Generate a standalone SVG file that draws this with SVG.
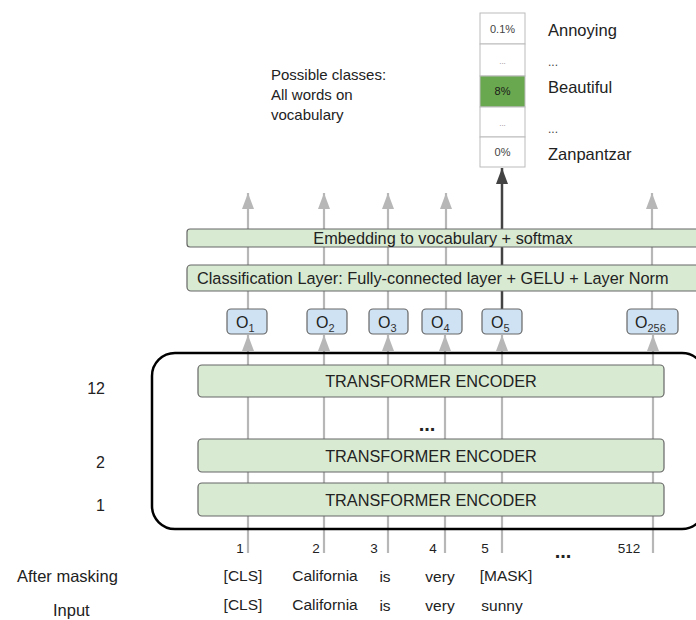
<svg xmlns="http://www.w3.org/2000/svg" width="696" height="620" viewBox="0 0 696 620">
<defs>
<marker id="ga" viewBox="0 0 16 12" refX="16" refY="6" markerWidth="16" markerHeight="12" markerUnits="userSpaceOnUse" orient="auto"><path d="M0,0 L16,6 L0,12 Z" fill="#b7b7b7"/></marker>
<marker id="ba" viewBox="0 0 16 12" refX="16" refY="6" markerWidth="16" markerHeight="12" markerUnits="userSpaceOnUse" orient="auto"><path d="M0,0 L16,6 L0,12 Z" fill="#434343"/></marker>
</defs>
<style>
text{font-family:"Liberation Sans",Arial,sans-serif;fill:#222}
.t14{font-size:15.5px}
.big{font-size:16.3px}
.lbl{font-size:16.5px}
.o{font-size:16px}
.sm{font-size:11px;fill:#444}
.sub{font-size:11px;fill:#333}
.green{fill:#d9ead3;stroke:#666;stroke-width:1.2}
.blue{fill:#cfe2f3;stroke:#666;stroke-width:1.2}
.cell{fill:#fff;stroke:#bbb;stroke-width:1}
.gl{stroke:#b7b7b7;stroke-width:2.2;fill:none}
.bl{stroke:#434343;stroke-width:2.5;fill:none}
</style>
<rect width="696" height="620" fill="#fff"/>

<g id="connectors">
<line class="gl" x1="248" y1="553" x2="248" y2="335" marker-end="url(#ga)"/>
<line class="gl" x1="324" y1="553" x2="324" y2="335" marker-end="url(#ga)"/>
<line class="gl" x1="388" y1="553" x2="388" y2="335" marker-end="url(#ga)"/>
<line class="gl" x1="445" y1="553" x2="445" y2="335" marker-end="url(#ga)"/>
<line class="gl" x1="502" y1="553" x2="502" y2="335" marker-end="url(#ga)"/>
<line class="gl" x1="653" y1="553" x2="653" y2="335" marker-end="url(#ga)"/>
<line class="gl" x1="248" y1="309" x2="248" y2="193" marker-end="url(#ga)"/>
<line class="gl" x1="324" y1="309" x2="324" y2="193" marker-end="url(#ga)"/>
<line class="gl" x1="388" y1="309" x2="388" y2="193" marker-end="url(#ga)"/>
<line class="gl" x1="446" y1="309" x2="446" y2="193" marker-end="url(#ga)"/>
<line class="gl" x1="652" y1="309" x2="652" y2="193" marker-end="url(#ga)"/>
<line class="bl" x1="502" y1="309" x2="502" y2="168" marker-end="url(#ba)"/>
</g>

<g id="stack">
<rect x="152" y="353" width="553" height="176" rx="23" fill="none" stroke="#000" stroke-width="2.5"/>
</g>

<g id="enc12"><rect class="green" x="198" y="365" width="466" height="32" rx="4"/><text class="big" x="431" y="387" text-anchor="middle">TRANSFORMER ENCODER</text></g>
<g id="dots"><text x="427" y="431" text-anchor="middle" style="font-size:20px;font-weight:bold">...</text></g>
<g id="enc2"><rect class="green" x="198" y="439" width="466" height="33" rx="4"/><text class="big" x="431" y="462" text-anchor="middle">TRANSFORMER ENCODER</text></g>
<g id="enc1"><rect class="green" x="198" y="483" width="466" height="33" rx="4"/><text class="big" x="431" y="506" text-anchor="middle">TRANSFORMER ENCODER</text></g>

<g id="classification"><rect class="green" x="187" y="265" width="520" height="26" rx="4"/><text class="big" x="197" y="284">Classification Layer: Fully-connected layer + GELU + Layer Norm</text></g>
<g id="embedding"><rect class="green" x="187" y="229" width="520" height="18" rx="3"/><text class="big" x="443" y="244" text-anchor="middle">Embedding to vocabulary + softmax</text></g>

<g id="o1"><rect class="blue" x="227" y="309" width="40" height="25" rx="4"/><text x="236" y="328" class="o">O<tspan class="sub" dy="4">1</tspan></text></g>
<g id="o2"><rect class="blue" x="307" y="309" width="40" height="25" rx="4"/><text x="316" y="328" class="o">O<tspan class="sub" dy="4">2</tspan></text></g>
<g id="o3"><rect class="blue" x="369" y="309" width="39" height="25" rx="4"/><text x="378" y="328" class="o">O<tspan class="sub" dy="4">3</tspan></text></g>
<g id="o4"><rect class="blue" x="422" y="309" width="40" height="25" rx="4"/><text x="431" y="328" class="o">O<tspan class="sub" dy="4">4</tspan></text></g>
<g id="o5"><rect class="blue" x="482" y="309" width="40" height="25" rx="4"/><text x="491" y="328" class="o">O<tspan class="sub" dy="4">5</tspan></text></g>
<g id="o256"><rect class="blue" x="627" y="309" width="51" height="25" rx="4"/><text x="635" y="328" class="o">O<tspan class="sub" dy="4">256</tspan></text></g>

<g id="probs">
<rect class="cell" x="480" y="13" width="45" height="31"/>
<rect class="cell" x="480" y="44" width="45" height="32"/>
<rect x="480" y="76" width="45" height="31" fill="#6aa84f" stroke="#bbb" stroke-width="1"/>
<rect class="cell" x="480" y="107" width="45" height="30"/>
<rect class="cell" x="480" y="137" width="45" height="30"/>
<text class="sm" x="502.5" y="33" text-anchor="middle">0.1%</text>
<text class="sm" x="502.5" y="64" text-anchor="middle" style="font-size:8px;fill:#888">...</text>
<text class="sm" x="502.5" y="95" text-anchor="middle" style="fill:#1a1a1a">8%</text>
<text class="sm" x="502.5" y="126" text-anchor="middle" style="font-size:8px;fill:#888">...</text>
<text class="sm" x="502.5" y="156" text-anchor="middle">0%</text>
</g>

<g id="classlabels">
<text class="lbl" x="548" y="36">Annoying</text>
<text class="sm" x="548" y="66" style="font-size:12px">...</text>
<text class="lbl" x="548" y="93">Beautiful</text>
<text class="sm" x="548" y="133" style="font-size:12px">...</text>
<text class="lbl" x="548" y="160">Zanpantzar</text>
</g>

<g id="possible" style="font-size:15px">
<text x="271" y="80" style="font-size:15px">Possible classes:</text>
<text x="271" y="100" style="font-size:15px">All words on</text>
<text x="271" y="120" style="font-size:15px">vocabulary</text>
</g>

<g id="layernums">
<text class="t14" x="105" y="394" text-anchor="end" style="font-size:16px">12</text>
<text class="t14" x="105" y="468" text-anchor="end" style="font-size:16px">2</text>
<text class="t14" x="105" y="511" text-anchor="end" style="font-size:16px">1</text>
</g>

<g id="positions">
<text x="240" y="553" text-anchor="middle" style="font-size:13.5px">1</text>
<text x="316" y="553" text-anchor="middle" style="font-size:13.5px">2</text>
<text x="374" y="553" text-anchor="middle" style="font-size:13.5px">3</text>
<text x="433" y="553" text-anchor="middle" style="font-size:13.5px">4</text>
<text x="485" y="553" text-anchor="middle" style="font-size:13.5px">5</text>
<text x="563" y="558" text-anchor="middle" style="font-size:20px;font-weight:bold">...</text>
<text x="629" y="553" text-anchor="middle" style="font-size:13.5px">512</text>
</g>

<g id="masked">
<text x="17" y="582" class="t14" style="font-size:16.5px">After masking</text>
<text x="243" y="581" class="t14" text-anchor="middle">[CLS]</text>
<text x="325" y="581" class="t14" text-anchor="middle">California</text>
<text x="385" y="582" class="t14" text-anchor="middle">is</text>
<text x="440" y="582" class="t14" text-anchor="middle">very</text>
<text x="506" y="581" class="t14" text-anchor="middle">[MASK]</text>
</g>
<g id="input">
<text x="53" y="616" class="t14" style="font-size:16.5px">Input</text>
<text x="243" y="610" class="t14" text-anchor="middle">[CLS]</text>
<text x="325" y="610" class="t14" text-anchor="middle">California</text>
<text x="385" y="611" class="t14" text-anchor="middle">is</text>
<text x="440" y="611" class="t14" text-anchor="middle">very</text>
<text x="502" y="611" class="t14" text-anchor="middle">sunny</text>
</g>
</svg>
